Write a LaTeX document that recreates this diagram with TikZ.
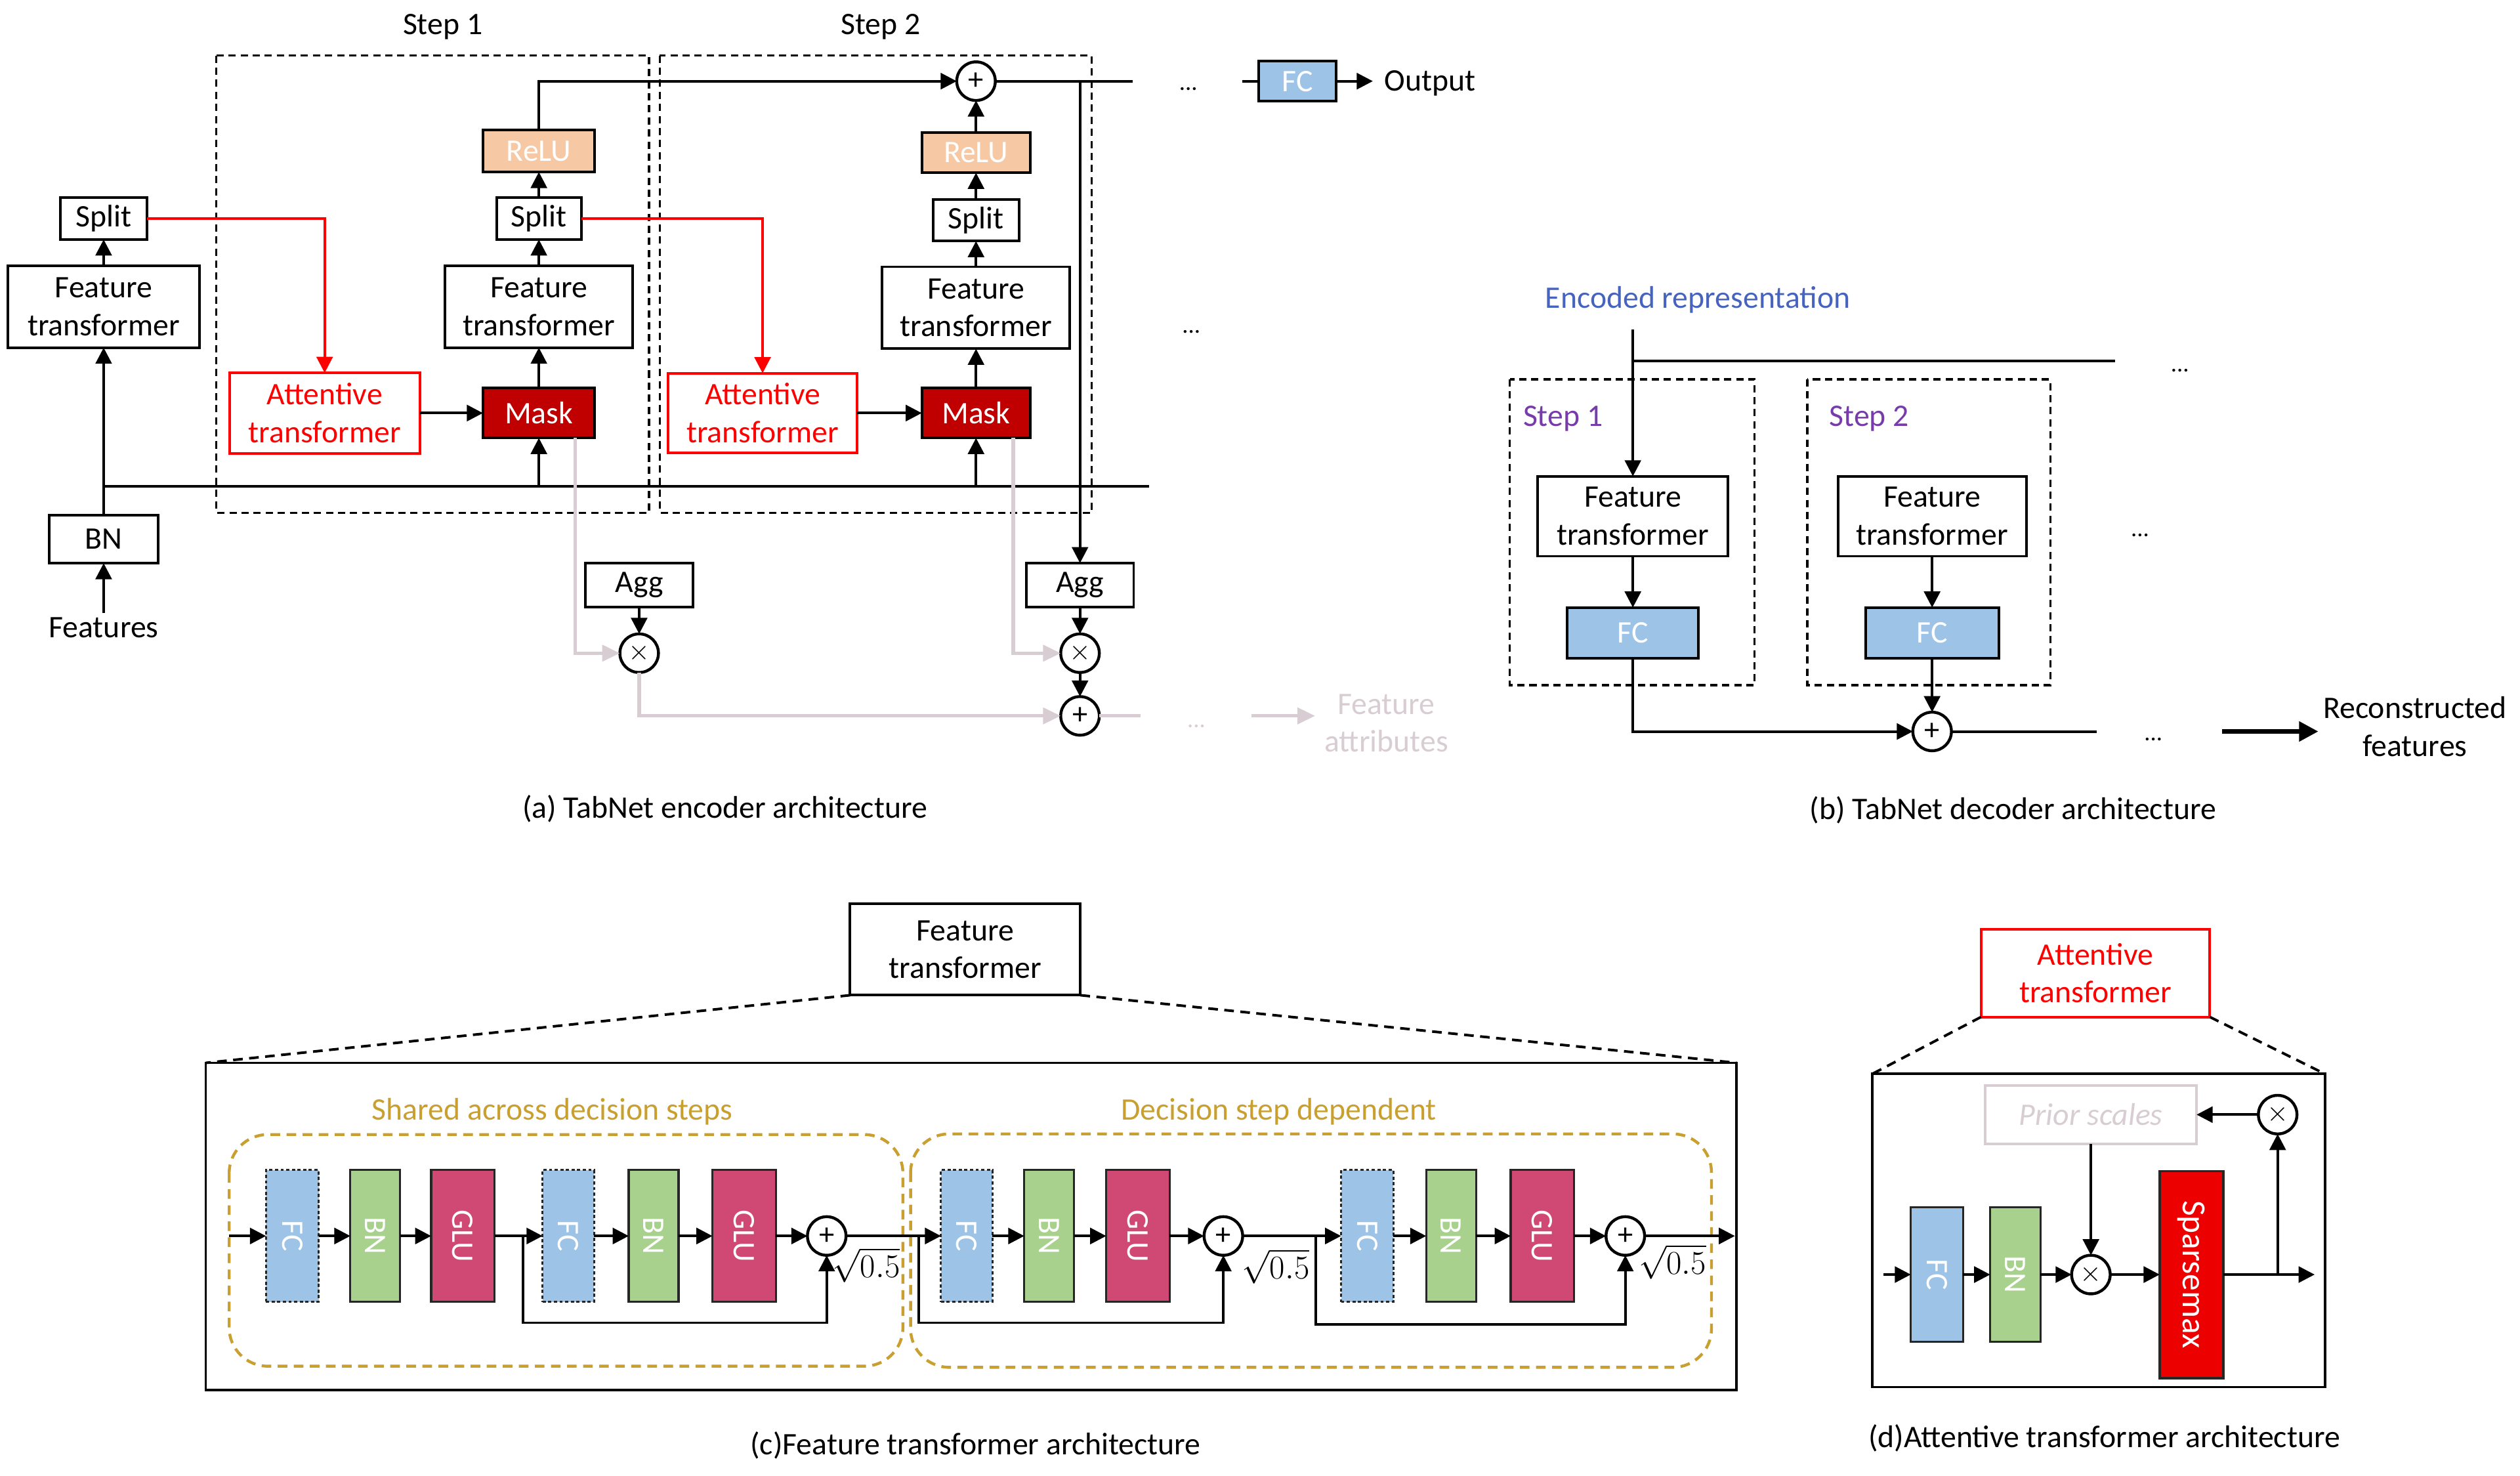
\documentclass[tikz,border=0pt]{standalone}
\usepackage{fontspec}
\usepackage{graphicx}
\setmainfont{Carlito}
\usetikzlibrary{arrows.meta}
\definecolor{fcblue}{RGB}{157,195,230}
\definecolor{bngreen}{RGB}{169,209,142}
\definecolor{glured}{RGB}{208,73,116}
\definecolor{maskred}{RGB}{192,0,0}
\definecolor{relupeach}{RGB}{246,200,164}
\definecolor{sparsered}{RGB}{237,0,0}
\definecolor{attred}{RGB}{255,0,0}
\definecolor{softgray}{RGB}{217,205,212}
\definecolor{goldc}{RGB}{201,160,48}
\definecolor{encblue}{RGB}{70,100,190}
\definecolor{steppurple}{RGB}{120,60,170}
\newcommand\myfs{\fontsize{19.5}{23.5}\selectfont}
\begin{document}
\begin{tikzpicture}[x=1pt,y=-1pt,
 every node/.style={font=\myfs, inner sep=0pt, outer sep=0pt},
 lw/.style={line width=1.6pt},
 box/.style={draw=black, lw, fill=white, align=center},
 redbox/.style={draw=attred, lw, fill=white, text=attred, align=center},
 maskbox/.style={draw=black, lw, fill=maskred, text=white},
 relubox/.style={draw=black, lw, fill=relupeach, text=white},
 fcbox/.style={draw=black, lw, fill=fcblue, text=white},
 circ/.style={circle, draw=black, line width=1.8pt, fill=white, minimum size=24pt, font=\fontsize{19}{19}\selectfont},
 arr/.style={lw, -{Triangle[length=10pt,width=10pt]}},
 conn/.style={lw},
 redarr/.style={lw, draw=attred, -{Triangle[length=10pt,width=10pt]}},
 grayarr/.style={line width=2.2pt, draw=softgray, -{Triangle[length=11pt,width=10pt]}},
 grayline/.style={line width=2.2pt, draw=softgray},
 stepbox/.style={draw=black, line width=1.3pt, dash pattern=on 4.5pt off 3pt},
 txt/.style={anchor=base},
 dotstxt/.style={anchor=base, font=\fontsize{15}{15}\selectfont},
 blk/.style={draw=black!85, line width=1.3pt, minimum height=82pt, text=white},
 fcblk/.style={blk, fill=fcblue, dash pattern=on 2pt off 1.5pt},
 bnblk/.style={blk, fill=bngreen, minimum width=31pt},
 glublk/.style={blk, fill=glured, minimum width=39.4pt},
 golddash/.style={draw=goldc, line width=1.8pt, dash pattern=on 6pt off 4pt, rounded corners=24pt},
 zoomdash/.style={line width=1.6pt, dash pattern=on 6pt off 4pt},
]
\useasboundingbox[fill=white] (0,0) rectangle (1568,918);

%================ (a) encoder =================
\draw[stepbox] (134.7,34.6) rectangle (403.8,319);
\draw[stepbox] (410.5,34.6) rectangle (679.2,319);
\node[txt] (st1) at (275.5,21.6) {Step 1};
\node[txt] (st2) at (548,21.6) {Step 2};

\node[box, minimum width=54pt, minimum height=26pt] (splitL) at (64.5,136) {Split};
\node[box, minimum width=119pt, minimum height=51pt] (ftL) at (64.5,190.8) {Feature\\transformer};
\node[box, minimum width=68pt, minimum height=30pt] (bn) at (64.5,335.4) {BN};
\node[txt, inner sep=3pt] (feat) at (64.5,396.8) {Features};

\node[redbox, minimum width=118.5pt, minimum height=50pt] (att1) at (202,257) {Attentive\\transformer};
\node[maskbox, minimum width=69.6pt, minimum height=31pt] (mask1) at (335.3,257) {Mask};
\node[box, minimum width=116.7pt, minimum height=51pt] (ft1) at (335.3,190.8) {Feature\\transformer};
\node[box, minimum width=52.6pt, minimum height=26pt] (split1) at (335.3,136) {Split};
\node[relubox, minimum width=69.6pt, minimum height=26pt] (relu1) at (335.3,94) {ReLU};

\node[redbox, minimum width=117.4pt, minimum height=49.6pt] (att2) at (474.5,257) {Attentive\\transformer};
\node[maskbox, minimum width=67.5pt, minimum height=31pt] (mask2) at (607.3,257) {Mask};
\node[box, minimum width=116.7pt, minimum height=51pt] (ft2) at (607.3,191.5) {Feature\\transformer};
\node[box, minimum width=53.6pt, minimum height=26pt] (split2) at (607.3,137) {Split};
\node[relubox, minimum width=67.5pt, minimum height=25pt] (relu2) at (607.3,95) {ReLU};
\node[circ] (plusT) at (607.3,50.5) {+};

\node[box, minimum width=67pt, minimum height=27.3pt] (agg1) at (397.7,364) {Agg};
\node[box, minimum width=66.8pt, minimum height=27.3pt] (agg2) at (672,364) {Agg};
\node[circ] (times1) at (397.7,406.4) {$\times$};
\node[circ] (times2) at (672,406.4) {$\times$};
\node[circ] (plusB) at (672,445.4) {+};

\node[fcbox, minimum width=48pt, minimum height=25pt] (fcOut) at (807.3,50.5) {FC};
\node[txt, anchor=base west] (outp) at (861.5,56.5) {Output};
\node[dotstxt] (dA1) at (739.4,56) {...};
\node[dotstxt] (dA2) at (741.2,207.3) {...};
\node[dotstxt, text=softgray] (dA3) at (744.4,452.5) {...};
\node[align=center, text=softgray] (fattr) at (862.6,450) {Feature\\attributes};
\node[txt] (capA) at (451,509) {(a) TabNet encoder architecture};

\coordinate (hL) at (64.5,302.5);
\coordinate (hR) at (715,302.5);
\coordinate (topEnd) at (704.8,50.5);
\coordinate (topBr) at (672,50.5);
\coordinate (fcIn) at (773,50.5);
\coordinate (outArr) at (854.2,50.5);
\coordinate (gEnd) at (709.8,445.4);
\coordinate (gA1) at (778.5,445.4);
\coordinate (gA2) at (818.3,445.4);

\draw[arr] (feat.north) -- (bn.south);
\draw[arr] (bn.north) -- (ftL.south);
\draw[arr] (ftL.north) -- (splitL.south);
\draw[conn] (hL) -- (hR);
\draw[redarr] (splitL.east) -| (att1.north);
\draw[arr] (att1.east) -- (mask1.west);
\draw[arr] (mask1.south |- hL) -- (mask1.south);
\draw[arr] (mask1.north) -- (ft1.south);
\draw[arr] (ft1.north) -- (split1.south);
\draw[arr] (split1.north) -- (relu1.south);
\draw[arr] (relu1.north) |- (plusT.west);
\draw[redarr] (split1.east) -| (att2.north);
\draw[arr] (att2.east) -- (mask2.west);
\draw[arr] (mask2.south |- hL) -- (mask2.south);
\draw[arr] (mask2.north) -- (ft2.south);
\draw[arr] (ft2.north) -- (split2.south);
\draw[arr] (split2.north) -- (relu2.south);
\draw[arr] (relu2.north) -- (plusT.south);
\draw[conn] (plusT.east) -- (topEnd);
\draw[arr] (topBr) -- (agg2.north);
\draw[conn] (fcIn) -- (fcOut.west);
\draw[arr] (fcOut.east) -- (outArr);
\draw[arr] (agg1.south) -- (times1.north);
\draw[arr] (agg2.south) -- (times2.north);
\draw[arr] (times2.south) -- (plusB.north);
\draw[grayarr] ([xshift=22.7pt]mask1.south) |- (times1.west);
\draw[grayarr] (times1.south) |- (plusB.west);
\draw[grayarr] ([xshift=23.2pt]mask2.south) |- (times2.west);
\draw[grayline] (plusB.east) -- (gEnd);
\draw[grayarr] (gA1) -- (gA2);

%================ (b) decoder =================
\node[txt, text=encblue] (enc) at (1056.4,191.6) {Encoded representation};
\draw[stepbox] (939.4,236) rectangle (1091.8,426.3);
\draw[stepbox] (1124.5,236) rectangle (1275.7,426.3);
\node[txt, text=steppurple] (ds1) at (972.5,265.4) {Step 1};
\node[txt, text=steppurple] (ds2) at (1163,265.4) {Step 2};
\node[box, minimum width=118.4pt, minimum height=49.7pt] (ftd1) at (1016,321.2) {Feature\\transformer};
\node[box, minimum width=117.1pt, minimum height=49.7pt] (ftd2) at (1202.2,321.2) {Feature\\transformer};
\node[fcbox, minimum width=81.6pt, minimum height=31.4pt] (fcd1) at (1016,393.7) {FC};
\node[fcbox, minimum width=82.8pt, minimum height=31.4pt] (fcd2) at (1202.2,393.7) {FC};
\node[circ] (plusD) at (1202.2,455.1) {+};
\node[dotstxt] (dB1) at (1356.4,231.5) {...};
\node[dotstxt] (dB2) at (1331.6,334) {...};
\node[dotstxt] (dB3) at (1339.8,460.6) {...};
\node[align=center] (recon) at (1502.6,452) {Reconstructed\\features};
\node[txt] (capB) at (1252.5,510) {(b) TabNet decoder architecture};

\coordinate (encS) at (1016,205);
\coordinate (dh1) at (1016,224.7);
\coordinate (dh2) at (1316.2,224.7);
\coordinate (dEnd) at (1304.6,455.1);
\coordinate (rA1) at (1382.5,455.1);
\coordinate (rA2) at (1442.5,455.1);
\draw[arr] (encS) -- (ftd1.north);
\draw[conn] (dh1) -- (dh2);
\draw[arr] (ftd1.south) -- (fcd1.north);
\draw[arr] (ftd2.south) -- (fcd2.north);
\draw[arr] (fcd2.south) -- (plusD.north);
\draw[arr] (fcd1.south) |- (plusD.west);
\draw[conn] (plusD.east) -- (dEnd);
\draw[line width=2.8pt, -{Triangle[length=12pt,width=12pt]}] (rA1) -- (rA2);

%================ (c) feature transformer =================
\node[box, minimum width=143.3pt, minimum height=57pt] (ftHead) at (600.6,590.7) {Feature\\transformer};
\node[draw=black, lw, minimum width=952.6pt, minimum height=203.7pt] (outerC) at (604.3,763.15) {};
\draw[zoomdash] (ftHead.south west) -- (outerC.north west);
\draw[zoomdash] (ftHead.south east) -- (outerC.north east);
\node[txt, text=goldc] (shl) at (343.6,697) {Shared across decision steps};
\node[txt, text=goldc] (ddl) at (795.7,697) {Decision step dependent};
\draw[golddash] (142.6,705.9) rectangle (561.8,850);
\draw[golddash] (566.6,705.5) rectangle (1064.9,850.7);

\node[fcblk, minimum width=32.8pt] (fc1) at (181.9,769) {\rotatebox{-90}{FC}};
\node[bnblk] (bn1) at (233.5,769) {\rotatebox{-90}{BN}};
\node[glublk] (glu1) at (288,769) {\rotatebox{-90}{GLU}};
\node[fcblk, minimum width=32pt] (fc2) at (353.6,769) {\rotatebox{-90}{FC}};
\node[bnblk] (bn2) at (406.7,769) {\rotatebox{-90}{BN}};
\node[glublk] (glu2) at (463,769) {\rotatebox{-90}{GLU}};
\node[circ] (plus1) at (514.4,769) {+};
\node[fcblk, minimum width=32pt] (fc3) at (601.5,769) {\rotatebox{-90}{FC}};
\node[bnblk] (bn3) at (652.8,769) {\rotatebox{-90}{BN}};
\node[glublk] (glu3) at (708,769) {\rotatebox{-90}{GLU}};
\node[circ] (plus2) at (761.2,769) {+};
\node[fcblk, minimum width=32.5pt] (fc4) at (850.7,769) {\rotatebox{-90}{FC}};
\node[bnblk] (bn4) at (902.9,769) {\rotatebox{-90}{BN}};
\node[glublk] (glu4) at (959.7,769) {\rotatebox{-90}{GLU}};
\node[circ] (plus3) at (1011.3,769) {+};
\node (sq1) at (539,787) {$\sqrt{0.5}$};
\node (sq2) at (793.8,788) {$\sqrt{0.5}$};
\node (sq3) at (1040.7,785) {$\sqrt{0.5}$};
\node[txt] (capC) at (607,905) {(c)Feature transformer architecture};

\coordinate (cin) at (142.6,769);
\coordinate (cout) at (1079.5,769);
\coordinate (s1) at (325.6,769);
\coordinate (s1b) at (325.6,823);
\coordinate (s2) at (571.6,769);
\coordinate (s2b) at (571.6,823);
\coordinate (s3) at (818.8,769);
\coordinate (s3b) at (818.8,824);
\draw[arr] (cin) -- (fc1.west);
\draw[arr] (fc1.east) -- (bn1.west);
\draw[arr] (bn1.east) -- (glu1.west);
\draw[arr] (glu1.east) -- (fc2.west);
\draw[arr] (fc2.east) -- (bn2.west);
\draw[arr] (bn2.east) -- (glu2.west);
\draw[arr] (glu2.east) -- (plus1.west);
\draw[arr] (plus1.east) -- (fc3.west);
\draw[arr] (fc3.east) -- (bn3.west);
\draw[arr] (bn3.east) -- (glu3.west);
\draw[arr] (glu3.east) -- (plus2.west);
\draw[arr] (plus2.east) -- (fc4.west);
\draw[arr] (fc4.east) -- (bn4.west);
\draw[arr] (bn4.east) -- (glu4.west);
\draw[arr] (glu4.east) -- (plus3.west);
\draw[arr] (plus3.east) -- (cout);
\draw[arr] (s1) -- (s1b) -| (plus1.south);
\draw[arr] (s2) -- (s2b) -| (plus2.south);
\draw[arr] (s3) -- (s3b) -| (plus3.south);

%================ (d) attentive transformer =================
\node[redbox, minimum width=142.4pt, minimum height=54.5pt] (attHead) at (1303.8,605.5) {Attentive\\transformer};
\node[draw=black, lw, minimum width=281.8pt, minimum height=194.8pt] (outerD) at (1305.8,765.6) {};
\draw[zoomdash] (attHead.south west) -- (outerD.north west);
\draw[zoomdash] (attHead.south east) -- (outerD.north east);
\node[draw=softgray, lw, minimum width=131.5pt, minimum height=36.5pt, text=softgray, font=\myfs\itshape] (prior) at (1301,693.5) {Prior scales};
\node[circ] (timesT) at (1417.2,693.5) {$\times$};
\node[blk, fill=fcblue, minimum width=32.5pt, minimum height=83.5pt] (fcA) at (1205.2,793) {\rotatebox{-90}{FC}};
\node[blk, fill=bngreen, minimum width=31.3pt, minimum height=83.5pt] (bnA) at (1254,793) {\rotatebox{-90}{BN}};
\node[circ] (timesM) at (1301,793) {$\times$};
\node[blk, fill=sparsered, minimum width=39.6pt, minimum height=129pt, font=\fontsize{21}{21}\selectfont] (sparse) at (1363.6,793) {\rotatebox{-90}{Sparsemax}};
\node[txt] (capD) at (1309.3,900.5) {(d)Attentive transformer architecture};

\coordinate (din) at (1172,793);
\coordinate (dout) at (1440.2,793);
\coordinate (dbr) at (1417.2,793);
\draw[arr] (din) -- (fcA.west);
\draw[arr] (fcA.east) -- (bnA.west);
\draw[arr] (bnA.east) -- (timesM.west);
\draw[arr] (timesM.east) -- (sparse.west);
\draw[arr] (sparse.east) -- (dout);
\draw[arr] (dbr) -- (timesT.south);
\draw[arr] (timesT.west) -- (prior.east);
\draw[arr] (prior.south) -- (timesM.north);
\end{tikzpicture}
\end{document}
